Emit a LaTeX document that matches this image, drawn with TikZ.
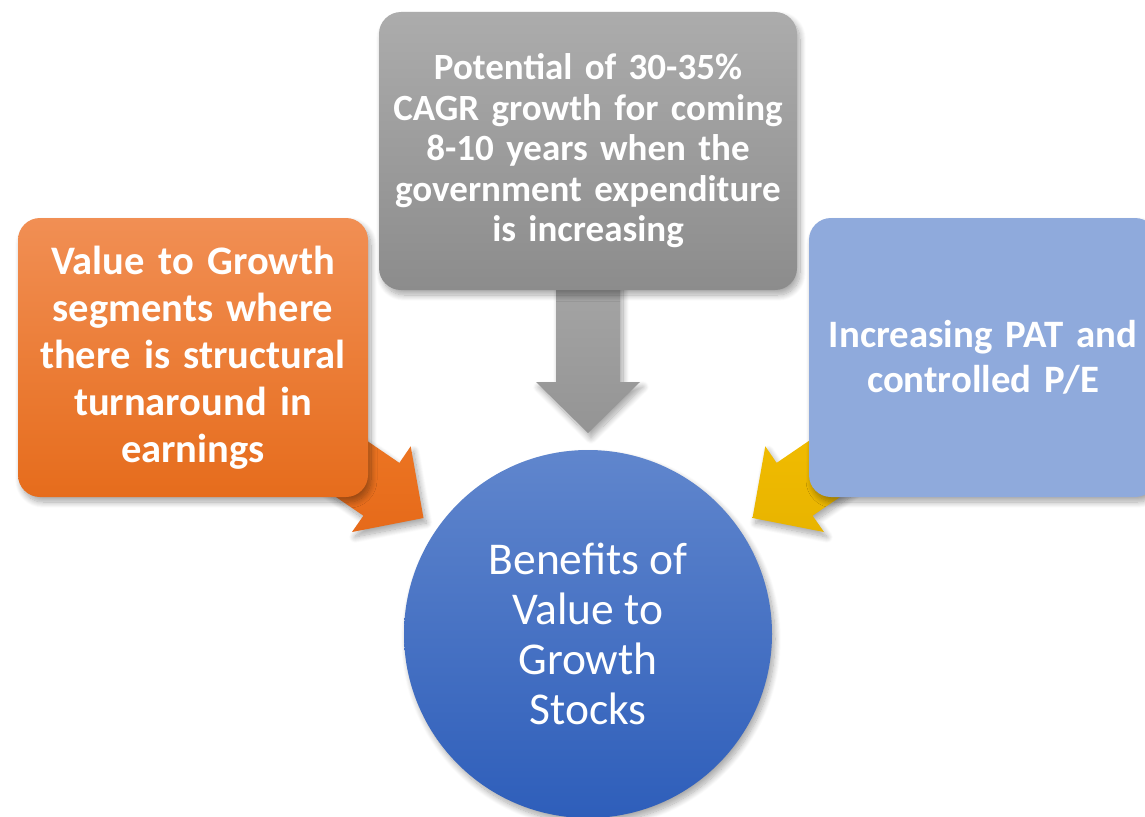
\documentclass[tikz,border=0pt]{standalone}
\usepackage{fontspec}
\setmainfont{Carlito}
\usetikzlibrary{shadows.blur,backgrounds}
\definecolor{orTop}{RGB}{241,143,84}
\definecolor{orBot}{RGB}{230,108,28}
\definecolor{orArTop}{RGB}{240,124,40}
\definecolor{orArBot}{RGB}{230,106,26}
\definecolor{grTop}{RGB}{172,172,172}
\definecolor{grBot}{RGB}{140,140,140}
\definecolor{grArTop}{RGB}{166,166,166}
\definecolor{grArBot}{RGB}{148,148,148}
\definecolor{blBox}{RGB}{143,170,220}
\definecolor{ciTop}{RGB}{96,134,205}
\definecolor{ciBot}{RGB}{46,94,186}
\definecolor{yeTop}{RGB}{246,192,0}
\definecolor{yeBot}{RGB}{232,180,0}
\begin{document}
\begin{tikzpicture}[x=1pt,y=-1pt,
  softshadow/.style={blur shadow={shadow xshift=3pt,shadow yshift=-5pt,shadow blur radius=6pt,shadow blur steps=12,shadow opacity=35}},
  box/.style={rounded corners=22pt, inner sep=0pt, text=white, align=center, softshadow},
  fatarrow/.style={softshadow}
]
\useasboundingbox (0,0) rectangle (1145,816);

% boxes
\node[box, minimum width=350pt, minimum height=279pt, top color=orTop, bottom color=orBot,
      font=\fontsize{40.5}{47}\selectfont\bfseries, text width=345pt] (valbox) at (193,357.5)
  {Value to Growth\\segments where\\there is structural\\turnaround in\\earnings};
\node[box, minimum width=418pt, minimum height=278pt, top color=grTop, bottom color=grBot,
      font=\fontsize{37}{40.5}\selectfont\bfseries, text width=410pt] (potbox) at (588,151)
  {Potential of 30-35\%\\CAGR growth for coming\\8-10 years when the\\government expenditure\\is increasing};
\node[box, minimum width=348pt, minimum height=279pt, fill=blBox,
      font=\fontsize{38.8}{45}\selectfont\bfseries, text width=345pt] (patbox) at (983,357.5)
  {Increasing PAT and\\controlled P/E};

% centre circle
\node[circle, minimum size=368pt, inner sep=0pt, top color=ciTop, bottom color=ciBot, text=white,
      align=center, font=\fontsize{45.5}{50}\selectfont, softshadow] (benefit) at (588,634)
  {Benefits of\\Value to\\Growth\\Stocks};

% arrow tips
\coordinate (otip) at (423.5,518);
\coordinate (gtip) at (588,433);
\coordinate (ytip) at (752.5,518);

\begin{scope}[on background layer]
  % orange arrow
  \path[fatarrow, top color=orArTop, bottom color=orArBot]
    (239.5,431.2) -- (363.4,515.7) -- (352,532) -- (otip) -- (410.7,446.3) -- (399.4,462.9) -- (275.5,378.4) -- cycle;
  % gray arrow
  \path[fatarrow, top color=grArTop, bottom color=grArBot]
    (556,270) -- (556,382) -- (536,382) -- (gtip) -- (640,382) -- (620,382) -- (620,270) -- cycle;
  % yellow arrow
  \path[fatarrow, top color=yeTop, bottom color=yeBot]
    (936.5,431.2) -- (812.6,515.7) -- (824,532) -- (ytip) -- (765.3,446.3) -- (776.6,462.9) -- (900.5,378.4) -- cycle;
\end{scope}
\end{tikzpicture}
\end{document}
